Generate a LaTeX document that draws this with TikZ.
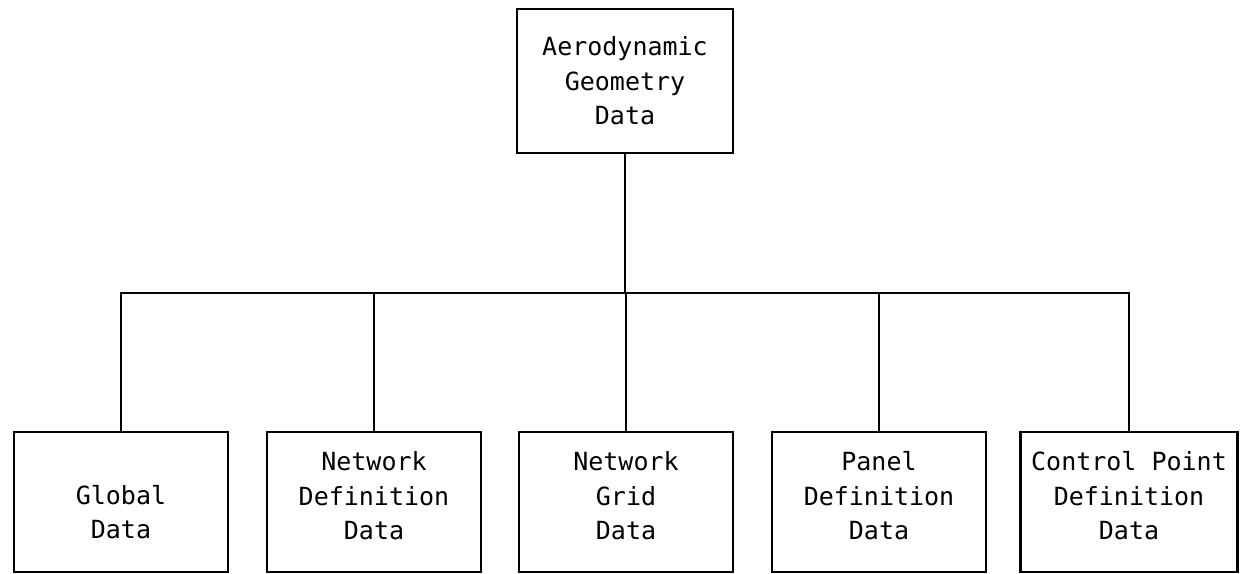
\documentclass[tikz,border=0pt]{standalone}
\usepackage{fontspec}
\newfontfamily\boxfont{DejaVu Sans Mono}
\begin{document}
\begin{tikzpicture}[x=1pt,y=1pt,
  box/.style={draw, line width=2.8pt, minimum width=214pt, minimum height=140pt,
    inner sep=0pt, align=center, font=\boxfont\fontsize{25}{34.5}\selectfont},
  txt/.style={inner sep=0pt, align=center, font=\boxfont\fontsize{25}{34.5}\selectfont},
  link/.style={line width=2.8pt}]
\useasboundingbox (0,0) rectangle (1245,-573);
\node[box, minimum width=216pt, minimum height=144pt] (top) at (625,-81) {Aerodynamic\\Geometry\\Data};
\node[box] (glob) at (121,-502) {};
\node[txt] (globt) at (121,-512) {Global\\Data};
\node[box] (netdef) at (374,-502) {};
\node[txt] (netdeft) at (374,-496) {Network\\Definition\\Data};
\node[box] (grid) at (626,-502) {};
\node[txt] (gridt) at (626,-496) {Network\\Grid\\Data};
\node[box] (panel) at (879,-502) {};
\node[txt] (panelt) at (879,-496) {Panel\\Definition\\Data};
\node[box, minimum width=217pt] (cp) at (1129,-502) {};
\node[txt] (cpt) at (1129,-496) {Control Point\\Definition\\Data};
\coordinate (busL) at (glob.north |- 0,-293);
\coordinate (busR) at (cp.north |- 0,-293);
\draw[link] (top.south) -- (top.south |- busL);
\draw[link, line cap=rect] (busL) -- (busR);
\foreach \b in {glob,netdef,grid,panel,cp}{
  \draw[link] (\b.north |- busL) -- (\b.north);
}
\end{tikzpicture}
\end{document}
